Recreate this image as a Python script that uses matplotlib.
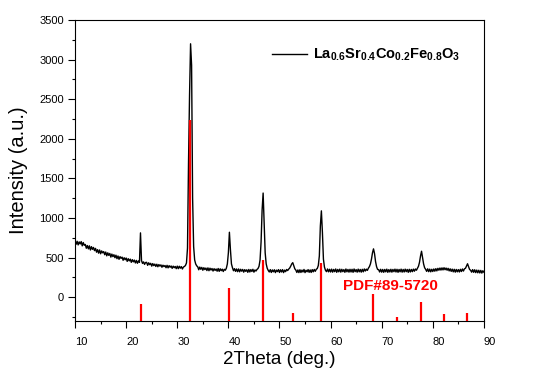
import numpy as np
import matplotlib
matplotlib.use("Agg")
import matplotlib.pyplot as plt
import matplotlib.transforms as mtransforms
from matplotlib.ticker import MultipleLocator

plt.rcParams['font.family'] = ['Liberation Sans', 'DejaVu Sans']
plt.rcParams['mathtext.fontset'] = 'custom'
plt.rcParams['mathtext.rm'] = 'Liberation Sans'
plt.rcParams['mathtext.bf'] = 'Liberation Sans:bold'

two_theta = np.linspace(10, 90, 401)
intensity = [
    712, 668, 706, 660, 698, 672, 702, 648, 690, 655,
    666, 618, 652, 610, 648, 596, 638, 604, 628, 588,
    616, 568, 600, 556, 596, 548, 584, 560, 576, 536,
    570, 522, 560, 528, 552, 506, 544, 512, 536, 498,
    530, 486, 520, 478, 512, 490, 506, 466, 498, 472,
    494, 452, 486, 458, 480, 440, 474, 446, 468, 432,
    464, 428, 458, 440, 812, 462, 426, 446, 414, 438,
    440, 402, 434, 410, 428, 392, 424, 398, 418, 388,
    416, 384, 412, 392, 408, 378, 404, 386, 400, 372,
    402, 370, 398, 378, 394, 364, 392, 372, 388, 360,
    392, 360, 390, 366, 386, 356, 380, 388, 400, 432,
    620, 1700, 2550, 3200, 2930, 1250, 640, 470, 420, 396,
    384, 346, 380, 352, 376, 340, 372, 348, 368, 336,
    370, 334, 366, 342, 362, 330, 360, 338, 356, 328,
    362, 326, 358, 334, 354, 324, 352, 340, 365, 420,
    560, 820, 600, 420, 372, 334, 360, 326, 356, 322,
    356, 320, 352, 328, 350, 316, 348, 326, 346, 314,
    350, 318, 348, 324, 352, 316, 344, 330, 350, 362,
    390, 470, 700, 1100, 1315, 950, 560, 420, 365, 338,
    318, 348, 312, 344, 320, 346, 310, 342, 322, 348,
    312, 346, 318, 348, 310, 342, 322, 350, 336, 354,
    368, 392, 420, 436, 396, 358, 342, 312, 344, 310,
    346, 312, 342, 318, 350, 310, 340, 320, 348, 314,
    344, 312, 348, 320, 350, 326, 352, 362, 400, 520,
    900, 1090, 820, 480, 380, 340, 322, 356, 320, 352,
    318, 354, 316, 350, 322, 356, 314, 350, 320, 354,
    316, 352, 322, 348, 314, 356, 320, 350, 316, 352,
    318, 352, 314, 356, 322, 348, 316, 354, 320, 350,
    316, 352, 320, 356, 330, 354, 338, 366, 386, 420,
    480, 560, 610, 550, 450, 385, 350, 348, 318, 352,
    316, 350, 314, 350, 320, 354, 314, 348, 318, 352,
    316, 350, 322, 354, 318, 352, 314, 350, 320, 354,
    316, 350, 318, 354, 322, 350, 314, 352, 318, 350,
    322, 354, 328, 356, 340, 366, 390, 440, 520, 580,
    500, 420, 372, 352, 326, 358, 322, 354, 320, 352,
    324, 356, 328, 360, 332, 364, 340, 368, 342, 370,
    344, 372, 346, 368, 340, 364, 332, 358, 326, 354,
    320, 352, 316, 350, 320, 348, 318, 352, 324, 356,
    330, 358, 365, 395, 422, 385, 350, 340, 316, 348,
    314, 346, 310, 342, 308, 340, 306, 338, 304, 334,
    315,
]

# reference card PDF#89-5720 sticks
pdf_pos = [22.85, 32.5, 40.2, 46.75, 52.6, 58.1, 68.25, 73.0, 77.65, 82.25, 86.75]
pdf_top = [-80, 2240, 120, 475, -195, 435, 45, -245, -60, -215, -195]

ymin, ymax = -300, 3500

fig = plt.figure(figsize=(5.48, 3.78), dpi=100)
ax = fig.add_axes([0.137, 0.151, 0.746, 0.796])

ax.plot(two_theta, intensity, color='black', lw=1.0,
        label=r'$\mathbf{La_{0.6}Sr_{0.4}Co_{0.2}Fe_{0.8}O_{3}}$')
ax.vlines(pdf_pos, ymin, pdf_top, colors='#ff0000', lw=1.6, zorder=3)
ax.text(62.4, 135, 'PDF#89-5720', color='#ff0000', fontsize=11,
        fontweight='bold', va='center', ha='left')

ax.set_xlim(10, 90)
ax.set_ylim(ymin, ymax)
ax.xaxis.set_major_locator(MultipleLocator(10))
ax.xaxis.set_minor_locator(MultipleLocator(5))
ax.yaxis.set_major_locator(MultipleLocator(500))
ax.yaxis.set_minor_locator(MultipleLocator(250))
ax.set_yticks(np.arange(0, 3501, 500))
ax.tick_params(which='major', direction='out', length=5, width=0.8, labelsize=8)
ax.tick_params(which='minor', direction='out', length=2.2, width=0.8)
ax.tick_params(axis='x', pad=6.5)
ax.tick_params(axis='y', pad=3)
for s in ax.spines.values():
    s.set_linewidth(0.8)

shift = mtransforms.ScaledTranslation(6 / 100, 0, fig.dpi_scale_trans)
for lab in ax.get_xticklabels():
    lab.set_transform(lab.get_transform() + shift)

ax.set_xlabel('2Theta (deg.)', fontsize=13.5, labelpad=3)
ax.set_ylabel('Intensity (a.u.)', fontsize=14.5, labelpad=8.5)

ax.legend(loc='center left', bbox_to_anchor=(0.481, 0.884), frameon=False,
          borderpad=0, borderaxespad=0, handlelength=2.4, handletextpad=0.4,
          fontsize=10.5)

fig.savefig('out.png', dpi=100)
